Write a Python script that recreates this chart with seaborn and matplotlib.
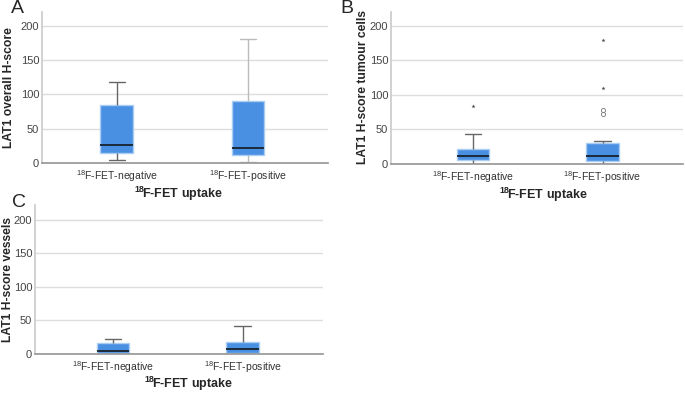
import numpy as np
import pandas as pd
import matplotlib
matplotlib.use("Agg")
import matplotlib.pyplot as plt
import seaborn as sns

sns.set_theme(style="white")
plt.rcParams["font.family"] = ["Liberation Sans", "DejaVu Sans"]
plt.rcParams["mathtext.fontset"] = "custom"
plt.rcParams["mathtext.rm"] = "Liberation Sans"
plt.rcParams["mathtext.bf"] = "Liberation Sans:bold"

# five-number summaries: low whisker, Q1, median, Q3, high whisker
groups = ["negative", "positive"]
tick_labels = ["$^{18}$F-FET-negative", "$^{18}$F-FET-positive"]

a_neg = [5, 15, 26, 85, 118]
a_pos = [2, 11, 22, 91, 180]
b_neg = [0, 6, 11, 21, 43]
b_pos = [0, 5, 11, 30, 33]
c_neg = [0, 1, 5, 17, 22]
c_pos = [0, 2, 7, 18, 42]

# panel B outliers
b_circle_grp = ["positive", "positive"]
b_circle_val = [73, 78]
b_star_grp = ["negative", "positive", "positive"]
b_star_val = [84, 110, 180]

ylabels = ["LAT1 overall H-score", "LAT1 H-score tumour cells", "LAT1 H-score vessels"]
xlabel = "$\\mathbf{^{18}\\!F}$-FET uptake"
letters = ["A", "B", "C"]

box_color = "#4a90e2"

W, H = 685, 393
fig = plt.figure(figsize=(W / 100, H / 100), dpi=100)


def px_axes(left, right, top, bottom):
    return fig.add_axes([left / W, 1 - bottom / H, (right - left) / W, (bottom - top) / H])


def panel(ax, neg, pos):
    df = pd.DataFrame({"group": ["negative"] * len(neg) + ["positive"] * len(pos),
                       "value": neg + pos})
    sns.boxplot(data=df, x="group", y="value", order=groups, whis=np.inf, width=0.25,
                color=box_color, saturation=1, linewidth=1, ax=ax,
                boxprops=dict(facecolor=box_color, edgecolor="#a9cdf3"),
                whiskerprops=dict(color="#666666"), capprops=dict(color="#666666"),
                medianprops=dict(color="#1b2a3a", linewidth=1.4))


def style(ax, xlim, ymax, ylabel, ylab_px, xlab_px):
    ax.set_xlim(*xlim)
    ax.set_ylim(0, ymax)
    ax.set_yticks([0, 50, 100, 150, 200])
    ax.set_xticks([0, 1])
    ax.set_xticklabels(tick_labels, fontsize=7.5, color="#333333")
    ax.tick_params(axis="y", labelsize=8, labelcolor="#444444", length=0, pad=2)
    ax.tick_params(axis="x", length=0, pad=4)
    ax.yaxis.grid(True, color="#dddddd", linewidth=1)
    ax.set_axisbelow(True)
    for s in ["top", "right"]:
        ax.spines[s].set_visible(False)
    ax.spines["left"].set_color("#cccccc")
    ax.spines["bottom"].set_color("#999999")
    ax.set_ylabel(ylabel, fontsize=8.7, fontweight="bold")
    ax.set_xlabel(xlabel, fontsize=9, fontweight="bold")
    ax.yaxis.set_label_coords(ylab_px[0] / W, 1 - ylab_px[1] / H, transform=fig.transFigure)
    ax.xaxis.set_label_coords(xlab_px[0] / W, 1 - xlab_px[1] / H, transform=fig.transFigure)


ax_a = px_axes(42, 328, 12, 163)
panel(ax_a, a_neg, a_pos)
for ln in ax_a.lines:
    xs = np.asarray(ln.get_xdata(), dtype=float)
    if len(xs) and abs(xs.mean() - 1) < 0.2 and ln.get_color() == "#666666":
        ln.set_color("#bbbbbb")
style(ax_a, (-0.57, 1.61), 220, ylabels[0], (15, 88), (178, 185))

ax_b = px_axes(391, 683, 12, 164)
panel(ax_b, b_neg, b_pos)
sns.stripplot(x=b_circle_grp, y=b_circle_val, order=groups, jitter=False, marker="o",
              size=3, color="white", edgecolor="#777777", linewidth=0.6, ax=ax_b)
sns.stripplot(x=b_star_grp, y=b_star_val, order=groups, jitter=False, marker="*",
              size=3, color="#444444", ax=ax_b)
style(ax_b, (-0.63, 1.62), 220, ylabels[1], (369, 87), (543, 186))

ax_c = px_axes(35, 323, 205, 354)
panel(ax_c, c_neg, c_pos)
style(ax_c, (-0.6, 1.62), 222, ylabels[2], (14, 280), (188, 375))

fig.text(11 / W, 1 - 0 / H, letters[0], fontsize=14, va="top", ha="left")
fig.text(340 / W, 1 - 0 / H, letters[1], fontsize=14, va="top", ha="left")
fig.text(12 / W, 1 - 194 / H, letters[2], fontsize=14, va="top", ha="left")

fig.savefig("out.png", dpi=100, facecolor="white")
